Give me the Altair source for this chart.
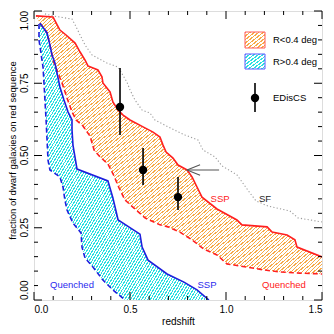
import altair as alt
import pandas as pd

# ---------------- data ----------------
# R<0.4 deg, SSP (upper red solid)
red_ssp_z = [0.010, 0.099, 0.135, 0.167, 0.214, 0.240, 0.266, 0.281, 0.333, 0.354, 0.359, 0.396,
             0.411, 0.438, 0.464, 0.500, 0.568, 0.620, 0.656, 0.672, 0.688, 0.724, 0.750, 0.797,
             0.823, 0.849, 0.875, 0.953, 1.057, 1.083, 1.214, 1.240, 1.318, 1.359, 1.370, 1.500]
red_ssp_f = [0.983, 0.979, 0.934, 0.917, 0.889, 0.858, 0.830, 0.810, 0.796, 0.772, 0.751, 0.720,
             0.685, 0.657, 0.640, 0.623, 0.599, 0.581, 0.564, 0.536, 0.512, 0.491, 0.467, 0.450,
             0.426, 0.391, 0.356, 0.315, 0.277, 0.260, 0.253, 0.235, 0.225, 0.208, 0.183, 0.149]
# R<0.4 deg, Quenched (lower red dashed)
red_q_z = [0.031, 0.068, 0.083, 0.099, 0.125, 0.146, 0.172, 0.198, 0.219, 0.255, 0.292, 0.313,
           0.344, 0.385, 0.417, 0.443, 0.474, 0.526, 0.578, 0.656, 0.698, 0.760, 0.823, 0.885,
           0.953, 1.005, 1.042, 1.198, 1.281, 1.385, 1.500]
red_q_f = [0.958, 0.924, 0.882, 0.830, 0.785, 0.751, 0.699, 0.651, 0.623, 0.602, 0.567, 0.519,
           0.495, 0.471, 0.429, 0.388, 0.346, 0.315, 0.284, 0.260, 0.253, 0.235, 0.208, 0.176,
           0.156, 0.125, 0.121, 0.104, 0.097, 0.093, 0.090]
# R>0.4 deg, SSP (blue solid)
blue_ssp_z = [0.031, 0.068, 0.083, 0.094, 0.109, 0.120, 0.135, 0.156, 0.177, 0.198, 0.198, 0.203,
              0.224, 0.385, 0.411, 0.438, 0.552, 0.563, 0.594, 0.693, 0.781, 0.849, 0.911]
blue_ssp_f = [0.958, 0.924, 0.882, 0.848, 0.820, 0.785, 0.737, 0.692, 0.651, 0.623, 0.588, 0.536,
              0.453, 0.412, 0.353, 0.277, 0.228, 0.183, 0.138, 0.090, 0.062, 0.035, 0.000]
# R>0.4 deg, Quenched (blue dashed)
blue_q_z = [0.026, 0.026, 0.036, 0.047, 0.052, 0.057, 0.063, 0.068, 0.073, 0.083, 0.135, 0.151,
            0.161, 0.172, 0.203, 0.245, 0.250, 0.266, 0.307, 0.359, 0.411, 0.474]
blue_q_f = [0.955, 0.900, 0.855, 0.806, 0.751, 0.692, 0.623, 0.554, 0.484, 0.450, 0.426, 0.391,
            0.346, 0.311, 0.266, 0.232, 0.183, 0.145, 0.114, 0.069, 0.035, 0.000]
# SF (grey dotted)
sf_z = [0.057, 0.099, 0.198, 0.214, 0.240, 0.266, 0.302, 0.380, 0.438, 0.484, 0.500, 0.526,
        0.563, 0.604, 0.630, 0.719, 0.786, 0.854, 0.880, 0.943, 0.979, 1.057, 1.125, 1.156,
        1.219, 1.333, 1.375, 1.500]
sf_f = [0.990, 0.983, 0.972, 0.952, 0.917, 0.882, 0.848, 0.820, 0.806, 0.754, 0.727, 0.692,
        0.657, 0.647, 0.623, 0.592, 0.571, 0.554, 0.519, 0.495, 0.464, 0.433, 0.370, 0.343,
        0.325, 0.308, 0.284, 0.270]
# EDisCS points
ed_z = [0.448, 0.568, 0.750]
ed_f = [0.668, 0.450, 0.356]
ed_lo = [0.571, 0.398, 0.311]
ed_hi = [0.803, 0.526, 0.426]
# arrow
arrow_z = [0.797, 0.964]
arrow_f = [0.450, 0.450]
head_z = [0.865, 0.797, 0.865]
head_f = [0.468, 0.450, 0.432]
# annotations
ann_text = ["SSP", "SF", "SSP", "Quenched", "Quenched"]
ann_z = [0.969, 1.203, 0.901, 1.302, 0.198]
ann_f = [0.350, 0.350, 0.052, 0.052, 0.052]
ann_col = ["#ff2020", "#222222", "#2a2aee", "#ff2020", "#2a2aee"]
legend_labels = ["R<0.4 deg", "R>0.4 deg", "EDisCS"]
y_title = "fraction of dwarf galaxies on red sequence"
# ticks
x_major = [0.0, 0.5, 1.0, 1.5]
x_minor = [0.1, 0.2, 0.3, 0.4, 0.6, 0.7, 0.8, 0.9, 1.1, 1.2, 1.3, 1.4]
y_major = [0.0, 0.25, 0.5, 0.75, 1.0]
y_labels = ["0.00", "0.25", "0.50", "0.75", "1.00"]
y_minor = [0.05, 0.1, 0.15, 0.2, 0.3, 0.35, 0.4, 0.45, 0.55, 0.6, 0.65, 0.7, 0.8, 0.85, 0.9, 0.95]

W, H = 288, 289
FONT = "Liberation Sans"
RED, BLUE = "#ff2020", "#1f1fdd"
ORANGE, CYAN = "#f7aa48", "#2ae0e0"


def stripes(color, n, frac=0.5):
    stops = []
    for k in range(n):
        a, b, c = k / n, (k + frac) / n, (k + 1) / n
        stops += [{"offset": round(a, 5), "color": color}, {"offset": round(b, 5), "color": color},
                  {"offset": round(b, 5), "color": "white"}, {"offset": round(c, 5), "color": "white"}]
    return {"gradient": "linear", "x1": 0, "y1": 0, "x2": 1, "y2": 1, "stops": stops}


def df(z, f):
    return pd.DataFrame({"z": z, "f": f, "i": list(range(len(z)))})


xs = alt.Scale(domain=[0, 1.5], nice=False, zero=False)
ys = alt.Scale(domain=[0, 1], nice=False, zero=False)
X = alt.X("z:Q", scale=xs, axis=alt.Axis(values=x_major, format=".1f", ticks=False, tickSize=0,
                                          domain=False, grid=False, labelFont=FONT, labelFontSize=10,
                                          labelColor="black", labelPadding=4, title="redshift",
                                          titleFont=FONT, titleFontSize=10, titleFontWeight="normal",
                                          titleColor="black", titlePadding=2))
Y = alt.Y("f:Q", scale=ys, axis=None)

orange_poly = pd.concat([df(red_ssp_z, red_ssp_f), df(red_q_z[::-1], red_q_f[::-1])], ignore_index=True)
orange_poly["i"] = range(len(orange_poly))
cyan_poly = pd.concat([df(blue_ssp_z, blue_ssp_f), df(blue_q_z[::-1], blue_q_f[::-1])], ignore_index=True)
cyan_poly["i"] = range(len(cyan_poly))

layers = []
layers.append(alt.Chart(orange_poly).mark_line(fill=stripes(ORANGE, 150, 0.34), strokeWidth=0)
              .encode(x=X, y=Y, order="i:Q"))
layers.append(alt.Chart(cyan_poly).mark_line(fill=stripes(CYAN, 120, 0.42), strokeWidth=0)
              .encode(x="z:Q", y="f:Q", order="i:Q"))


def line(z, f, color, dash=None, width=1.6):
    kw = dict(color=color, strokeWidth=width, clip=True)
    if dash:
        kw["strokeDash"] = dash
    return alt.Chart(df(z, f)).mark_line(**kw).encode(x="z:Q", y="f:Q", order="i:Q")


layers.append(line(sf_z, sf_f, "#9a9a9a", [1.2, 2.2], 1.1))
layers.append(line(red_ssp_z, red_ssp_f, RED))
layers.append(line(red_q_z, red_q_f, RED, [5, 3]))
layers.append(line(blue_ssp_z, blue_ssp_f, BLUE))
layers.append(line(blue_q_z, blue_q_f, BLUE, [5, 3]))
layers.append(line(arrow_z, arrow_f, "#555555", None, 1.1))
layers.append(line(head_z, head_f, "#555555", None, 1.1))

ed = pd.DataFrame({"z": ed_z, "f": ed_f, "lo": ed_lo, "hi": ed_hi})
layers.append(alt.Chart(ed).mark_rule(color="black", strokeWidth=1.6).encode(x="z:Q", y="lo:Q", y2="hi:Q"))
layers.append(alt.Chart(ed).mark_circle(color="black", size=70, opacity=1).encode(x="z:Q", y="f:Q"))

ann = pd.DataFrame({"t": ann_text, "z": ann_z, "f": ann_f, "c": ann_col})
layers.append(alt.Chart(ann).mark_text(font=FONT, fontSize=9.5, align="center", baseline="middle")
              .encode(x="z:Q", y="f:Q", text="t:N", color=alt.Color("c:N", scale=None)))


# ticks (inside, all four sides)
def tick_layer(vals, axis, side, length):
    d = pd.DataFrame({"v": vals})
    if axis == "x":
        y0 = H if side == "bottom" else 0
        y1 = y0 - length if side == "bottom" else length
        return alt.Chart(d).mark_rule(color="black", strokeWidth=1).encode(
            x="v:Q", y=alt.value(y0), y2=alt.value(y1))
    x0 = 0 if side == "left" else W
    x1 = length if side == "left" else W - length
    return alt.Chart(d).mark_rule(color="black", strokeWidth=1).encode(
        y="v:Q", x=alt.value(x0), x2=alt.value(x1))


for side in ["bottom", "top"]:
    layers.append(tick_layer(x_major, "x", side, 8))
    layers.append(tick_layer(x_minor, "x", side, 4))
for side in ["left", "right"]:
    layers.append(tick_layer(y_major, "y", side, 8))
    layers.append(tick_layer(y_minor, "y", side, 4))

# y tick labels (rotated, first/last flushed inside the frame) and y title
ylab = pd.DataFrame({"v": y_major, "t": y_labels})
for sel, al in [(ylab.iloc[[0]], "left"), (ylab.iloc[1:-1], "center"), (ylab.iloc[[-1]], "right")]:
    layers.append(alt.Chart(sel).mark_text(font=FONT, fontSize=10, angle=270, align=al,
                                           baseline="middle", color="black")
                  .encode(y=alt.Y("v:Q"), x=alt.value(-9.5), text="t:N"))
layers.append(alt.Chart(pd.DataFrame({"t": [y_title]})).mark_text(
    font=FONT, fontSize=9.5, angle=270, align="center", baseline="middle", color="black")
    .encode(text="t:N", x=alt.value(-21), y=alt.value(H / 2 - 5)))

# legend
one = pd.DataFrame({"a": [0]})
layers.append(alt.Chart(one).mark_rect(fill=stripes(ORANGE, 9, 0.4), stroke="#ff5a5a", strokeWidth=1)
              .encode(x=alt.value(211), x2=alt.value(231), y=alt.value(21), y2=alt.value(37)))
layers.append(alt.Chart(one).mark_rect(fill=stripes(CYAN, 9, 0.42), stroke="#5a5aff", strokeWidth=1)
              .encode(x=alt.value(211), x2=alt.value(231), y=alt.value(43), y2=alt.value(58)))
layers.append(alt.Chart(one).mark_rule(color="black", strokeWidth=1.6)
              .encode(x=alt.value(221), y=alt.value(72), y2=alt.value(101)))
layers.append(alt.Chart(one).mark_circle(color="black", size=70, opacity=1)
              .encode(x=alt.value(221), y=alt.value(87)))
leg = pd.DataFrame({"t": legend_labels, "py": [29, 50.5, 87]})
layers.append(alt.Chart(leg).mark_text(font=FONT, fontSize=9.5, align="left", baseline="middle", color="black")
              .encode(text="t:N", x=alt.value(239), y=alt.Y("py:Q", scale=None)))

chart = alt.layer(*layers).properties(
    width=W, height=H,
    autosize=alt.AutoSizeParams(type="none"),
    padding={"left": 26, "top": 3, "right": 4, "bottom": 30},
).configure_view(stroke="black", strokeWidth=1).configure(background="white")

chart.save("out.html", embed_options={"renderer": "svg", "actions": False})
